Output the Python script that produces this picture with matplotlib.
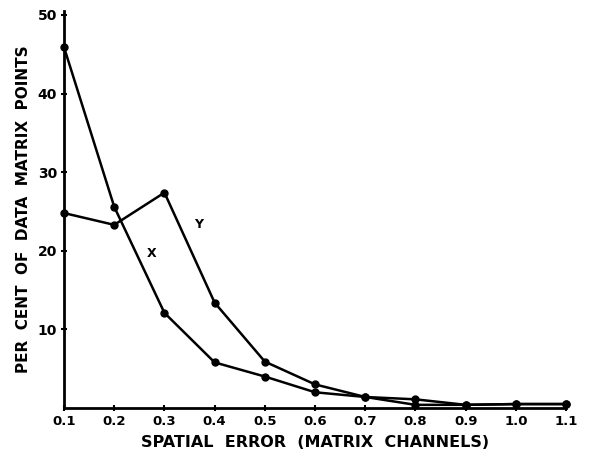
import matplotlib
matplotlib.use("Agg")
import matplotlib.pyplot as plt

spatial_error = [0.1, 0.2, 0.3, 0.4, 0.5, 0.6, 0.7, 0.8, 0.9, 1.0, 1.1]
x_series = [45.9, 25.6, 12.1, 5.8, 4.0, 2.0, 1.4, 0.4, 0.4, 0.5, 0.5]
y_series = [24.8, 23.3, 27.4, 13.4, 5.9, 3.0, 1.4, 1.1, 0.4, 0.5, 0.5]
x_ticks = [0.1, 0.2, 0.3, 0.4, 0.5, 0.6, 0.7, 0.8, 0.9, 1.0, 1.1]
x_tick_labels = ["0.1", "0.2", "0.3", "0.4", "0.5", "0.6", "0.7", "0.8", "0.9", "1.0", "1.1"]
y_ticks = [10, 20, 30, 40, 50]
y_tick_labels = ["10", "20", "30", "40", "50"]

plt.rcParams['font.family'] = ['DejaVu Sans']
plt.rcParams['font.weight'] = 'bold'

fig = plt.figure(figsize=(6.12, 4.61), dpi=100)
ax = fig.add_axes([0.1046, 0.115, 0.8204, 0.861])

ax.plot(spatial_error, x_series, color='black', lw=1.8, marker='o', ms=5, zorder=3, clip_on=False)
ax.plot(spatial_error, y_series, color='black', lw=1.8, marker='o', ms=5, zorder=3, clip_on=False)

ax.text(0.275, 19.7, "X", fontsize=9, fontweight='bold', ha='center', va='center')
ax.text(0.368, 23.3, "Y", fontsize=9, fontweight='bold', ha='center', va='center')

ax.set_xlim(0.1, 1.1)
ax.set_ylim(0, 50.5)
ax.set_xticks(x_ticks)
ax.set_xticklabels(x_tick_labels, fontsize=9.5, fontweight='bold')
ax.set_yticks(y_ticks)
ax.set_yticklabels(y_tick_labels, fontsize=10, fontweight='bold')
ax.tick_params(axis='both', direction='inout', length=4, width=1.5, pad=3)

for s in ['top', 'right']:
    ax.spines[s].set_visible(False)
for s in ['left', 'bottom']:
    ax.spines[s].set_linewidth(2)

ax.set_ylabel("PER  CENT  OF  DATA  MATRIX  POINTS", fontsize=11, fontweight='bold', labelpad=5)
ax.set_xlabel("SPATIAL  ERROR  (MATRIX  CHANNELS)", fontsize=11.5, fontweight='bold', labelpad=5)

fig.savefig("out.png", dpi=100)
